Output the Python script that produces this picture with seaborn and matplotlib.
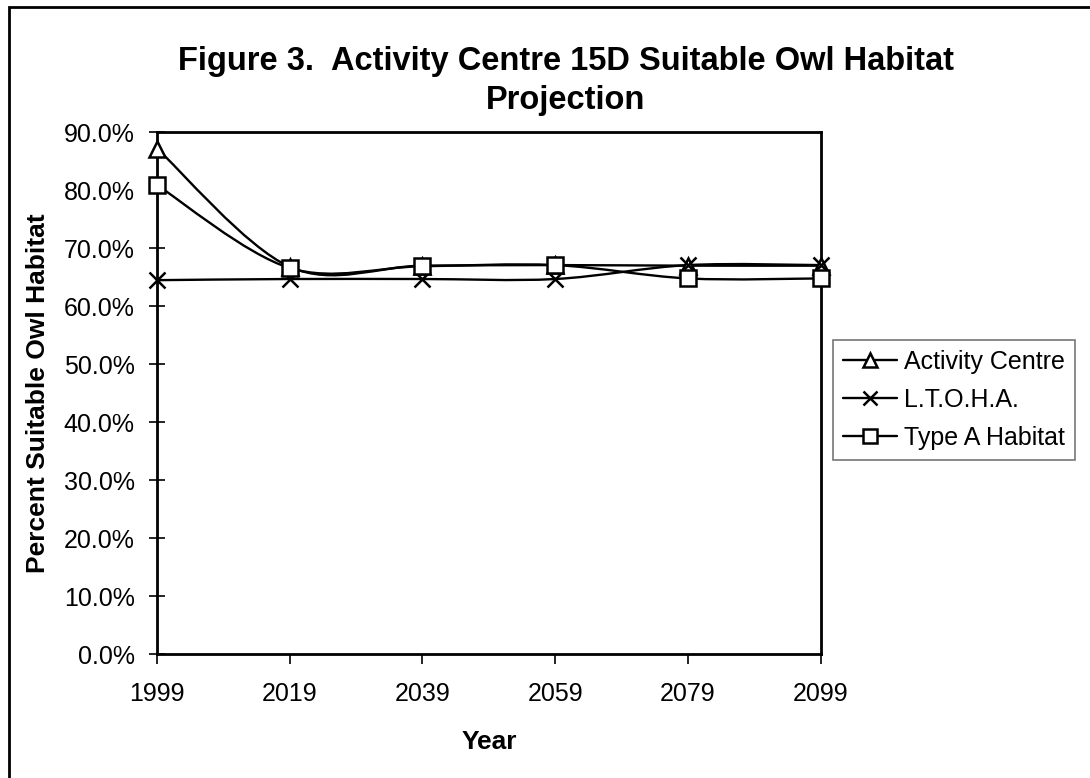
import numpy as np
import pandas as pd
import seaborn as sns
import matplotlib
matplotlib.use('Agg')
from matplotlib import pyplot as plt
from matplotlib.path import Path
from matplotlib.patches import PathPatch, Rectangle
from matplotlib.lines import Line2D
from matplotlib.ticker import FuncFormatter

# data (percent)
years = [1999, 2019, 2039, 2059, 2079, 2099]
activity_centre = [87.2, 66.8, 67.0, 67.1, 67.0, 67.0]
ltoha = [64.5, 64.7, 64.7, 64.7, 67.1, 67.1]
type_a = [80.9, 66.6, 66.9, 67.1, 64.8, 64.8]
series_names = ['Activity Centre', 'L.T.O.H.A.', 'Type A Habitat']
series_markers = ['^', 'x', 's']
y_ticks = [0, 10, 20, 30, 40, 50, 60, 70, 80, 90]


def smooth_path(xs, ys):
    # Excel-style smoothed line (cubic bezier through the points)
    p = np.column_stack([xs, ys]).astype(float)
    ext = np.vstack([p[0], p, p[-1]])
    verts = [p[0]]
    codes = [Path.MOVETO]
    for i in range(len(p) - 1):
        p0, p1, p2, p3 = ext[i], ext[i + 1], ext[i + 2], ext[i + 3]
        verts += [p1 + (p2 - p0) / 6, p2 - (p3 - p1) / 6, p2]
        codes += [Path.CURVE4] * 3
    return Path(verts, codes)


sns.set_style('white')
plt.rcParams['font.family'] = ['Liberation Sans', 'DejaVu Sans']
plt.rcParams.update({'text.color': 'black', 'axes.labelcolor': 'black',
                     'xtick.color': 'black', 'ytick.color': 'black'})

fig = plt.figure(figsize=(10.9, 7.78), dpi=100)
ax = fig.add_axes([0.144, 0.159, 0.609, 0.671])

for name, vals, m in zip(series_names, [activity_centre, ltoha, type_a], series_markers):
    ax.add_patch(PathPatch(smooth_path(years, vals), fill=False, edgecolor='black',
                           lw=1.7, zorder=2, clip_on=False))
    df = pd.DataFrame({'Year': years, 'Pct': vals})
    sns.lineplot(data=df, x='Year', y='Pct', marker=m, color='black', linewidth=0,
                 markersize=11, markerfacecolor='white', markeredgecolor='black',
                 markeredgewidth=1.8, ax=ax, zorder=3, clip_on=False)

ax.set_xlim(1999, 2099)
ax.set_ylim(0, 90)
ax.set_xticks(years)
ax.set_yticks(y_ticks)
ax.yaxis.set_major_formatter(FuncFormatter(lambda v, _: f'{v:.1f}%'))
ax.tick_params(axis='y', direction='inout', length=12, width=1.2, labelsize=18, pad=10)
ax.tick_params(axis='x', direction='out', length=7, width=1.2, labelsize=18, pad=13)
ax.tick_params(left=True, bottom=True)
for s in ax.spines.values():
    s.set_color('black')
    s.set_linewidth(2)

ax.set_xlabel('Year', fontsize=19, fontweight='bold', labelpad=17)
ax.set_ylabel('Percent Suitable Owl Habitat', fontsize=19, fontweight='bold', labelpad=10)

fig.text(0.519, 0.896, 'Figure 3.  Activity Centre 15D Suitable Owl Habitat\nProjection',
         ha='center', va='center', fontsize=23.5, fontweight='bold', linespacing=1.35)

handles = [Line2D([0], [0], color='black', lw=1.7, marker=m, markersize=10,
                  markerfacecolor='white', markeredgecolor='black', markeredgewidth=1.8)
           for m in series_markers]
leg = fig.legend(handles, series_names, loc='center left', bbox_to_anchor=(0.764, 0.486),
                 fontsize=18, frameon=True, fancybox=False, handlelength=2.15,
                 handletextpad=0.3, borderpad=0.4, labelspacing=0.55, borderaxespad=0)
leg.get_frame().set_edgecolor('#555555')
leg.get_frame().set_linewidth(1.2)

fig.add_artist(Rectangle((0.0083, -0.01), 1.0, 1.001, transform=fig.transFigure,
                         fill=False, edgecolor='black', lw=2))

fig.savefig('out.png', dpi=100)
